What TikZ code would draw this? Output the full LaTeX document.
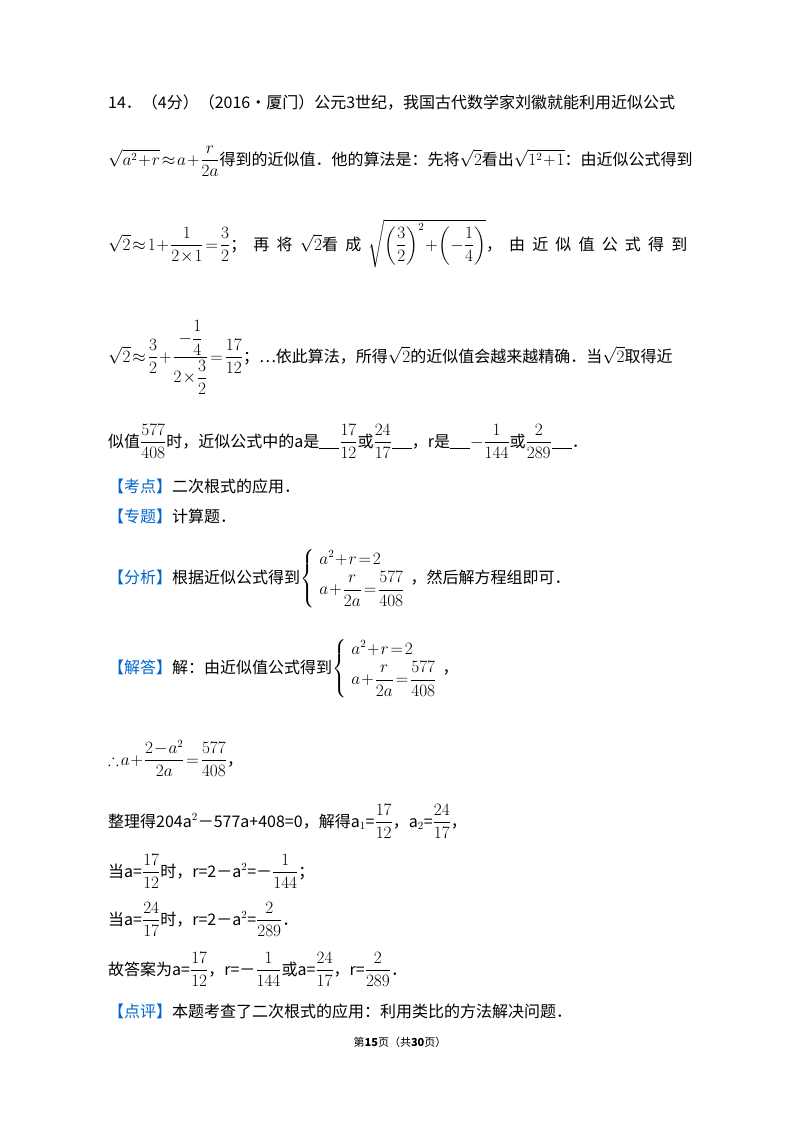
\documentclass[tikz,border=0pt]{standalone}
\usepackage{amsmath,amssymb}
\usepackage{fontspec}
\setmainfont{Noto Sans CJK SC}
\definecolor{kblue}{RGB}{0,102,204}
\medmuskip=1mu plus 1mu\relax
\thickmuskip=2mu plus 2mu\relax
\tikzset{ln/.style={anchor=base west,inner sep=0pt,font=\fontsize{16}{19}\selectfont}}
\newcommand{\hb}[1]{{\color{kblue}【#1】}}
\newcommand{\bl}{\rule[-2pt]{20pt}{0.6pt}}
\begin{document}
\begin{tikzpicture}[x=1pt,y=-1pt]
\useasboundingbox[fill=white] (0,0) rectangle (800,1132);
\node[ln] (l1) at (108,108) {14．（4分）（2016•厦门）公元3世纪，我国古代数学家刘徽就能利用近似公式};
\node[ln] (l2) at (108,165) {$\sqrt{a^2+r}\approx a+\dfrac{r}{2a}$得到的近似值．他的算法是：先将$\sqrt{2}$看出$\sqrt{1^2+1}$：由近似公式得到};
\node[ln] (l3) at (108,250) {$\sqrt{2}\approx1+\dfrac{1}{2\times1}=\dfrac{3}{2}$；\ \ 再\ \ 将\ \ $\sqrt{2}$看\ \ 成\ \ $\sqrt{\left(\dfrac{3}{2}\right)^2+\left(-\dfrac{1}{4}\right)}$，\ \ 由\ \ 近\ \ 似\ \ 值\ \ 公\ \ 式\ \ 得\ \ 到};
\node[ln] (l4) at (108,362) {$\sqrt{2}\approx\dfrac{3}{2}+\dfrac{-\dfrac{1}{4}}{2\times\dfrac{3}{2}}=\dfrac{17}{12}$；…依此算法，所得$\sqrt{2}$的近似值会越来越精确．当$\sqrt{2}$取得近};
\node[ln] (l5) at (108,447) {似值$\dfrac{577}{408}$时，近似公式中的a是\bl$\dfrac{17}{12}$或$\dfrac{24}{17}$\bl，r是\bl$-\dfrac{1}{144}$或$\dfrac{2}{289}$\bl．};
\node[ln] (l6) at (108,492) {\hb{考点}二次根式的应用．};
\node[ln] (l7) at (108,522) {\hb{专题}计算题．};
\node[ln] (l8) at (108,583) {\hb{分析}根据近似公式得到$\left\{\begin{array}{l}a^2+r=2\\[2pt] a+\dfrac{r}{2a}=\dfrac{577}{408}\end{array}\right.$，然后解方程组即可．};
\node[ln] (l9) at (108,673) {\hb{解答}解：由近似值公式得到$\left\{\begin{array}{l}a^2+r=2\\[2pt] a+\dfrac{r}{2a}=\dfrac{577}{408}\end{array}\right.$，};
\node[ln] (l10) at (108,765) {$\therefore a+\dfrac{2-a^2}{2a}=\dfrac{577}{408}$，};
\node[ln] (l11) at (108,827) {整理得204a$^2$－577a+408=0，解得a$_1$=$\dfrac{17}{12}$，a$_2$=$\dfrac{24}{17}$，};
\node[ln] (l12) at (108,877) {当a=$\dfrac{17}{12}$时，r=2－a$^2$=－$\dfrac{1}{144}$；};
\node[ln] (l13) at (108,925) {当a=$\dfrac{24}{17}$时，r=2－a$^2$=$\dfrac{2}{289}$．};
\node[ln] (l14) at (108,975) {故答案为a=$\dfrac{17}{12}$，r=－$\dfrac{1}{144}$或a=$\dfrac{24}{17}$，r=$\dfrac{2}{289}$．};
\node[ln] (l15) at (108,1017) {\hb{点评}本题考查了二次根式的应用：利用类比的方法解决问题．};
\node[anchor=base,inner sep=0pt,font=\fontsize{11}{13}\selectfont] (ft) at (400,1046) {第\textbf{15}页（共\textbf{30}页）};
\end{tikzpicture}
\end{document}
